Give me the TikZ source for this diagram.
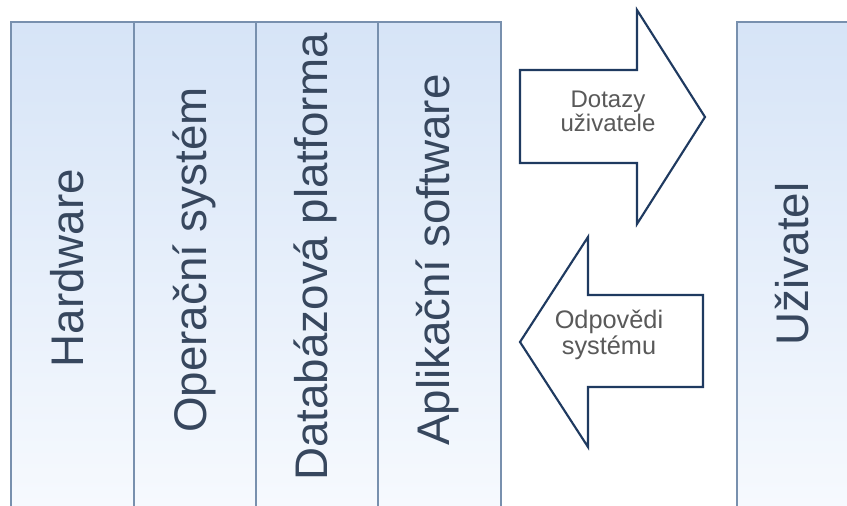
\documentclass[tikz,border=0pt]{standalone}
\usepackage{fontspec}
\setmainfont{Liberation Sans}
\definecolor{colborder}{HTML}{7890AE}
\definecolor{coltop}{HTML}{D6E4F7}
\definecolor{colbot}{HTML}{F7FAFE}
\definecolor{bigtext}{HTML}{37475E}
\definecolor{arrline}{HTML}{1F3A60}
\definecolor{arrtext}{HTML}{595959}
\tikzset{
  colbox/.style={draw=colborder, line width=1.5pt, top color=coltop, bottom color=colbot},
  biglabel/.style={rotate=90, anchor=base, inner sep=0pt, text=bigtext, font=\fontsize{34.3}{40}\selectfont},
  bigarrow/.style={draw=arrline, fill=white, line width=1.6pt, line join=miter},
  arrlabel/.style={align=center, text=arrtext, inner sep=0pt, font=\fontsize{18}{16.5}\selectfont},
  arrlabelb/.style={align=center, text=arrtext, inner sep=0pt, font=\fontsize{19}{19.5}\selectfont}
}
\begin{document}
\begin{tikzpicture}[x=0.75pt, y=-0.75pt]
\useasboundingbox (0,0) rectangle (847,506);
\begin{scope}
\clip (0,0) rectangle (847,506);
% columns
\path[colbox] (11,22) rectangle (134,520);
\path[colbox] (134,22) rectangle (256,520);
\path[colbox] (256,22) rectangle (378,520);
\path[colbox] (378,22) rectangle (501,520);
\path[colbox] (737,22) rectangle (870,520);
\end{scope}
% labels
\node[biglabel] (hw) at (83,268) {Hardware};
\node[biglabel] (os) at (206,260) {Operační systém};
\node[biglabel] (db) at (327.5,257) {Databázová platforma};
\node[biglabel] (app) at (449,260) {Aplikační software};
\node[biglabel] (usr) at (808,264) {Uživatel};
% right arrow
\draw[bigarrow] (520,70) -- (637,70) -- (637,10) -- (705,117) -- (637,224) -- (637,163) -- (520,163) -- cycle;
% left arrow
\draw[bigarrow] (703,295) -- (588,295) -- (588,237) -- (520,342) -- (588,447) -- (588,387) -- (703,387) -- cycle;
\node[arrlabel] (q) at (608,111) {Dotazy\\uživatele};
\node[arrlabelb] (a) at (609,335) {Odpovědi\\systému};
\end{tikzpicture}
\end{document}
